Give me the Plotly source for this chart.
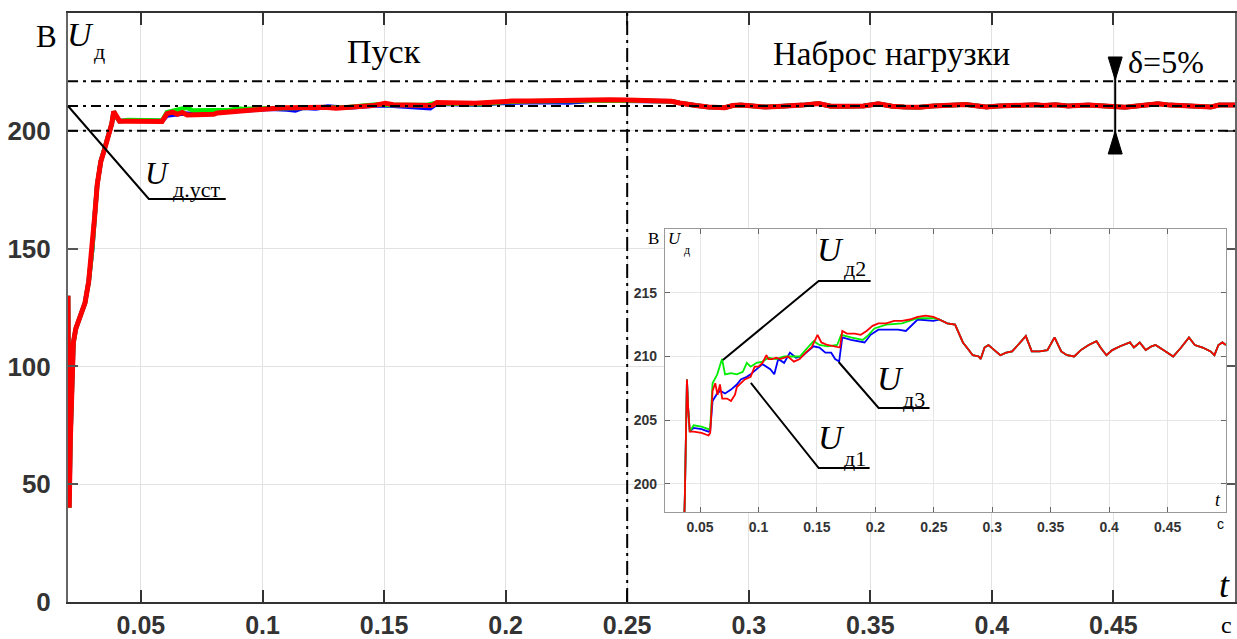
import plotly.graph_objects as go

# ---------------- data ----------------
# start-up segment, common for all three phases
t_start = [0.0200, 0.0202, 0.0205, 0.0210, 0.0215, 0.0222, 0.0232, 0.0250, 0.0270,
           0.0285, 0.0300, 0.0310, 0.0320, 0.0335, 0.0350, 0.0370, 0.0380, 0.0388,
           0.0398, 0.0412]
u_start = [130, 90, 40, 70, 95, 110, 116, 121, 127,
           136, 150, 164, 177, 187, 192, 199, 203, 208.2,
           206.0, 204.1]

# phase 1 (blue)
t_mid_1 = [0.0445, 0.0513, 0.0573, 0.0587, 0.0607, 0.0647, 0.0674, 0.0714, 0.0765,
           0.0815, 0.0849, 0.0900, 0.0933, 0.0984, 0.1034, 0.1101, 0.1135, 0.1169,
           0.1219, 0.1269, 0.1320, 0.1370, 0.1421, 0.1471, 0.1522, 0.1572, 0.1622,
           0.1656, 0.1690, 0.1717, 0.1791, 0.1908, 0.1959, 0.2026, 0.2093, 0.2194,
           0.2261, 0.2362, 0.2497]
u_mid_1 = [204.4, 204.3, 204.1, 204.2, 206.5, 207.1, 207.3, 207.1, 207.4,
           207.8, 208.2, 208.4, 208.6, 209.0, 209.4, 209.0, 208.6, 209.8,
           209.5, 210.3, 209.9, 210.0, 210.4, 210.8, 210.7, 210.3, 210.3,
           209.8, 209.6, 211.5, 211.3, 211.1, 211.7, 212.1, 212.1, 212.1,
           212.0, 212.9, 212.8]

# phase 2 (green)
t_mid_2 = [0.0445, 0.0513, 0.0573, 0.0587, 0.0607, 0.0647, 0.0688, 0.0714, 0.0765,
           0.0815, 0.0866, 0.0900, 0.0933, 0.0984, 0.1034, 0.1084, 0.1152, 0.1219,
           0.1286, 0.1353, 0.1421, 0.1471, 0.1522, 0.1589, 0.1673, 0.1707, 0.1791,
           0.1892, 0.1942, 0.1992, 0.2093, 0.2228, 0.2362, 0.2497]
u_mid_2 = [204.6, 204.5, 204.3, 204.4, 207.9, 208.6, 209.8, 208.6, 208.7,
           208.6, 208.8, 209.5, 209.2, 209.5, 209.6, 209.9, 209.8, 210.0,
           210.0, 210.0, 210.7, 211.2, 210.9, 210.8, 210.9, 211.7, 211.5,
           211.3, 211.7, 212.2, 212.5, 212.6, 213.0, 213.0]

# phase 3 (red)
t_mid_3 = [0.0445, 0.0513, 0.0573, 0.0587, 0.0607, 0.0630, 0.0650, 0.0670, 0.0690,
           0.0731, 0.0765, 0.0799, 0.0815, 0.0849, 0.0883, 0.0933, 0.0967, 0.1000,
           0.1034, 0.1068, 0.1084, 0.1118, 0.1152, 0.1185, 0.1219, 0.1253, 0.1303,
           0.1353, 0.1404, 0.1454, 0.1505, 0.1538, 0.1589, 0.1656, 0.1697, 0.1717,
           0.1757, 0.1824, 0.1875, 0.1925, 0.1976, 0.2026, 0.2093, 0.2160, 0.2228,
           0.2295, 0.2362, 0.2430, 0.2497]
u_mid_3 = [204.1, 204.0, 203.8, 204.0, 207.3, 207.9, 207.0, 207.8, 206.7,
           206.7, 206.5, 207.0, 207.6, 207.9, 208.2, 208.4, 209.2, 209.2,
           209.5, 210.1, 209.8, 209.8, 209.9, 209.8, 209.9, 210.0, 209.6,
           209.8, 210.3, 210.7, 211.7, 211.1, 210.9, 210.8, 210.7, 212.0,
           211.8, 211.8, 211.7, 212.0, 212.4, 212.6, 212.6, 212.8, 212.8,
           212.9, 213.1, 213.2, 213.1]

# load-step segment, common for all three phases
t_tail = [0.2547, 0.2615, 0.2682, 0.2716, 0.2749, 0.2783, 0.2833, 0.2884, 0.2901,
          0.2934, 0.2968, 0.3018, 0.3069, 0.3119, 0.3170, 0.3220, 0.3287, 0.3338,
          0.3405, 0.3472, 0.3533, 0.3590, 0.3640, 0.3701, 0.3758, 0.3825, 0.3892,
          0.3926, 0.3977, 0.4027, 0.4094, 0.4178, 0.4212, 0.4262, 0.4313, 0.4363,
          0.4397, 0.4464, 0.4548, 0.4616, 0.4683, 0.4733, 0.4800, 0.4868, 0.4901,
          0.4935, 0.4969, 0.5000]
u_tail = [212.9, 212.6, 212.5, 211.8, 211.1, 210.7, 210.1, 210.0, 209.8,
          210.7, 210.9, 210.5, 210.1, 210.3, 210.4, 210.9, 211.6, 210.4,
          210.4, 210.5, 211.5, 210.4, 210.1, 210.0, 210.5, 210.9, 211.2,
          210.7, 210.1, 210.5, 210.8, 211.1, 210.7, 211.1, 210.5, 210.8,
          210.9, 210.5, 210.0, 210.7, 211.5, 210.9, 210.7, 210.4, 210.1,
          210.9, 211.1, 210.9]

u_set = 210.5          # steady-state voltage, V
delta = 0.05           # tolerance band
x_ticks = [0.05, 0.1, 0.15, 0.2, 0.25, 0.3, 0.35, 0.4, 0.45]
x_ticktext = ["0.05", "0.1", "0.15", "0.2", "0.25", "0.3", "0.35", "0.4", "0.45"]
y_ticks = [0, 50, 100, 150, 200]
y2_ticks = [200, 205, 210, 215]

# ---------------- geometry helpers (pixel -> paper) ----------------
L, R, T, B = 68, 1237, 13, 602
def px(x):
    return (x - L) / (R - L)
def py(y):
    return (B - y) / (B - T)

fig = go.Figure()
phases = [
    (t_start + t_mid_1 + t_tail, u_start + u_mid_1 + u_tail, "#0000ff", 4.5),
    (t_start + t_mid_2 + t_tail, u_start + u_mid_2 + u_tail, "#00ee00", 4.5),
    (t_start + t_mid_3 + t_tail, u_start + u_mid_3 + u_tail, "#ff0000", 5),
]
for t, u, c, w in phases:
    fig.add_trace(go.Scatter(x=t, y=u, mode="lines", line=dict(color=c, width=w),
                             xaxis="x", yaxis="y", hoverinfo="skip"))
for t, u, c, w in phases:
    fig.add_trace(go.Scatter(x=t, y=u, mode="lines", line=dict(color=c, width=1.8),
                             xaxis="x2", yaxis="y2", hoverinfo="skip"))

x_font = dict(family="Liberation Sans", size=25, color="#333333", weight="bold")
y_font = dict(family="Liberation Sans", size=26, color="#333333", weight="bold")
small_font = dict(family="Liberation Sans", size=14, color="#333333", weight="bold")

fig.update_layout(
    width=1237, height=639,
    margin=dict(l=L, r=1237 - R, t=T, b=639 - B),
    paper_bgcolor="white", plot_bgcolor="white", showlegend=False,
    xaxis=dict(domain=[0, 1], range=[0.02, 0.5], tickvals=x_ticks, ticktext=x_ticktext,
               ticks="inside", ticklen=12, tickwidth=2, tickcolor="#333333",
               showline=True, linecolor="#333333", linewidth=2, mirror="ticks",
               showgrid=True, gridcolor="#e2e2e2", gridwidth=1, zeroline=False,
               tickfont=x_font, ticklabelstandoff=0),
    yaxis=dict(domain=[0, 1], range=[0, 250], tickvals=y_ticks,
               ticks="inside", ticklen=10, tickwidth=2, tickcolor="#555555",
               showline=True, linecolor="#666666", linewidth=2, mirror="ticks",
               showgrid=True, gridcolor="#e2e2e2", gridwidth=1, zeroline=False,
               tickfont=y_font, ticklabelstandoff=10),
    xaxis2=dict(domain=[px(666), px(1228)], anchor="y2", range=[0.02, 0.5],
                tickvals=x_ticks, ticktext=x_ticktext,
                ticks="inside", ticklen=5, tickwidth=1, tickcolor="#666666",
                showline=True, linecolor="#999999", linewidth=1.2, mirror="ticks",
                showgrid=True, gridcolor="#e6e6e6", gridwidth=1, zeroline=False,
                tickfont=small_font, ticklabelstandoff=2),
    yaxis2=dict(domain=[py(512), py(229)], anchor="x2", range=[197.8, 220],
                tickvals=y2_ticks,
                ticks="inside", ticklen=5, tickwidth=1, tickcolor="#666666",
                showline=True, linecolor="#999999", linewidth=1.2, mirror="ticks",
                showgrid=True, gridcolor="#e6e6e6", gridwidth=1, zeroline=False,
                tickfont=small_font, ticklabelstandoff=4),
)

shapes = []
# white background of the inset (hides the main grid)
shapes.append(dict(type="rect", xref="x2 domain", yref="y2 domain", x0=0, x1=1, y0=0, y1=1,
                   fillcolor="white", line=dict(width=0), layer="below"))
dd = "10px,5px,3px,5px"
for yv in [u_set * (1 - delta), u_set, u_set * (1 + delta)]:
    shapes.append(dict(type="line", xref="x", yref="y", x0=0.02, x1=0.5, y0=yv, y1=yv,
                       line=dict(color="black", width=2, dash=dd), layer="above"))
shapes.append(dict(type="line", xref="x", yref="y", x0=0.25, x1=0.25, y0=0, y1=250,
                   line=dict(color="black", width=2, dash="14px,5px,3px,5px"), layer="above"))

def path(points):
    s = "M " + " L ".join(f"{px(a):.5f},{py(b):.5f}" for a, b in points)
    return s

def leader(points):
    shapes.append(dict(type="path", xref="paper", yref="paper", path=path(points),
                       line=dict(color="black", width=2), layer="above"))

leader([(68, 106), (149, 199), (226, 199)])
leader([(724, 360), (820, 281), (872, 281)])
leader([(752, 383), (820, 468), (871, 468)])
leader([(840, 362), (880, 408), (931, 408)])

# delta arrow at t = 0.45
ax = 1117
shapes.append(dict(type="line", xref="paper", yref="paper", x0=px(ax), x1=px(ax), y0=py(58), y1=py(153),
                   line=dict(color="black", width=2), layer="above"))
shapes.append(dict(type="path", xref="paper", yref="paper",
                   path=path([(ax - 7, 57), (ax + 7, 57), (ax, 80)]) + " Z",
                   fillcolor="black", line=dict(color="black", width=1), layer="above"))
shapes.append(dict(type="path", xref="paper", yref="paper",
                   path=path([(ax - 7, 154), (ax + 7, 154), (ax, 131)]) + " Z",
                   fillcolor="black", line=dict(color="black", width=1), layer="above"))
fig.update_layout(shapes=shapes)

def txt(x, y, s, size, italic=False, family="Liberation Serif", anchor="center", color="black"):
    fig.add_annotation(x=px(x), y=py(y), xref="paper", yref="paper", text=s, showarrow=False,
                       xanchor=anchor, yanchor="middle",
                       font=dict(family=family, size=size, color=color,
                                 style="italic" if italic else "normal"))

txt(385, 52, "Пуск", 34)
txt(893, 54, "Наброс нагрузки", 33)
txt(1128, 62, "δ=5%", 32, anchor="left")
txt(46, 36, "В", 31)
txt(81, 34, "U", 34, italic=True)
txt(100, 52, "д", 22)
txt(158, 173, "U", 31, italic=True)
txt(171, 190, "д.уст", 22, anchor="left")
txt(832, 249, "U", 34, italic=True)
txt(843, 268, "д2", 22, anchor="left")
txt(833, 437, "U", 34, italic=True)
txt(843, 458, "д1", 22, anchor="left")
txt(892, 378, "U", 34, italic=True)
txt(902, 399, "д3", 22, anchor="left")
txt(655, 239, "В", 17)
txt(676, 238, "U", 17, italic=True)
txt(688, 250, "д", 12)
txt(1226, 585, "t", 36, italic=True)
txt(1228, 625, "с", 24)
txt(1220, 500, "t", 18, italic=True)
txt(1222, 524, "с", 14, family="Liberation Sans")

# remove the default 8px page margin so the figure fills the window exactly
fig.write_html("out.html", config={"displayModeBar": False},
               post_script="document.body.style.margin='0';document.body.style.overflow='hidden';")
